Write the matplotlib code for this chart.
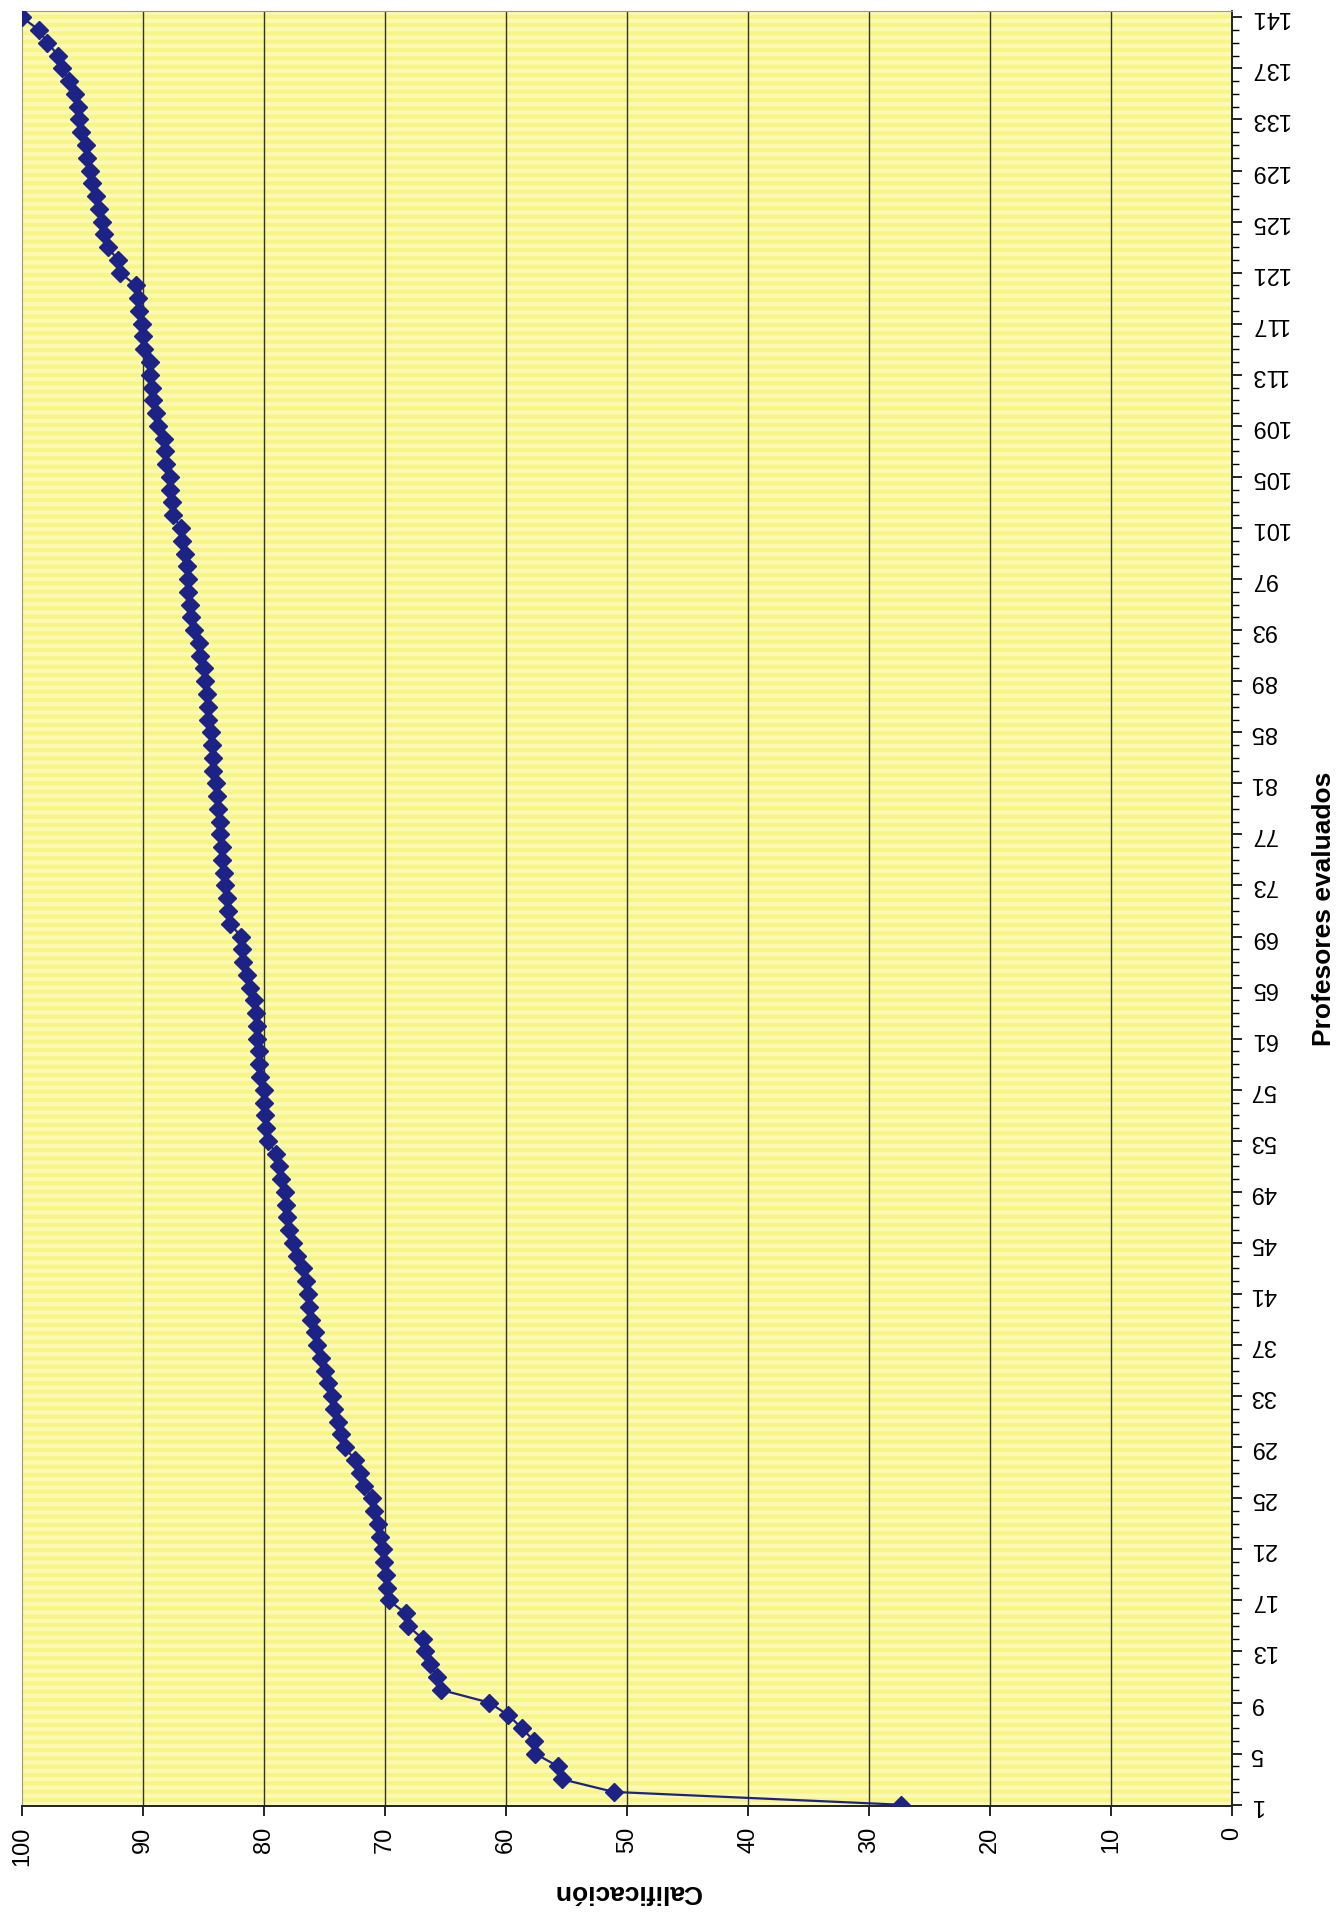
#!/usr/bin/env python3
# -*- coding: utf-8 -*-
"""
Calificación de profesores evaluados (gráfica girada, como en el escaneo)
"""

import matplotlib
matplotlib.use('Agg')
import matplotlib.pyplot as plt
import matplotlib.patches as mpatches

plt.rcParams['font.family'] = ['Liberation Sans', 'DejaVu Sans']
plt.rcParams['hatch.linewidth'] = 3.0

# Datos: calificación de cada profesor (ordenada de menor a mayor)
profesores = list(range(1, 142))
calificacion = [
    27.4, 51.1, 55.4, 55.7, 57.6, 57.7, 58.7, 59.8, 61.4, 65.4,
    65.7, 66.3, 66.7, 66.9, 68.1, 68.3, 69.7, 69.8, 69.9, 70.1,
    70.2, 70.4, 70.6, 70.9, 71.1, 71.7, 72.1, 72.5, 73.3, 73.6,
    73.9, 74.2, 74.4, 74.7, 75.0, 75.3, 75.6, 75.8, 76.1, 76.3,
    76.4, 76.5, 76.8, 77.3, 77.6, 77.9, 78.1, 78.2, 78.3, 78.6,
    78.8, 79.0, 79.7, 79.8, 79.9, 80.0, 80.0, 80.3, 80.4, 80.4,
    80.6, 80.6, 80.7, 80.8, 81.2, 81.4, 81.7, 81.8, 81.9, 82.8,
    83.0, 83.1, 83.2, 83.3, 83.5, 83.5, 83.6, 83.6, 83.8, 83.9,
    84.0, 84.2, 84.2, 84.3, 84.4, 84.6, 84.6, 84.7, 84.9, 85.0,
    85.3, 85.4, 85.8, 86.0, 86.1, 86.25, 86.3, 86.4, 86.5, 86.8,
    86.9, 87.5, 87.6, 87.8, 87.8, 88.1, 88.2, 88.3, 88.75, 88.9,
    89.2, 89.3, 89.4, 89.4, 89.9, 90.0, 90.1, 90.3, 90.4, 90.6,
    91.9, 92.1, 92.9, 93.25, 93.4, 93.6, 93.9, 94.2, 94.4, 94.6,
    94.7, 95.1, 95.3, 95.4, 95.6, 96.1, 96.7, 97.0, 97.9, 98.6,
    100.0,
]
ticks_calificacion = [0, 10, 20, 30, 40, 50, 60, 70, 80, 90, 100]
ticks_profesores = list(range(1, 142, 4))

fig = plt.figure(figsize=(13.44, 19.19), dpi=100)
ax = fig.add_axes([0.0164, 0.0589, 0.9003, 0.9354])

# Fondo amarillo con rayas claras del escaneo
ax.set_facecolor('#f7f585')
rayas = mpatches.Rectangle((0, 0), 1, 1, transform=ax.transAxes, facecolor='none',
                           edgecolor='#fffcd2', hatch='--', linewidth=0, alpha=0.6, zorder=0)
ax.add_patch(rayas)

# Curva (ejes intercambiados: calificación en horizontal, profesores en vertical)
ax.plot(calificacion, profesores, color='#1d2287', linewidth=1.6, marker='D',
        markersize=9, markerfacecolor='#1d2287', markeredgecolor='#1d2287', zorder=3)

ax.set_xlim(100, 0)
ax.set_ylim(0.9, 141.5)

# Líneas de división verticales
for v in ticks_calificacion[1:-1]:
    ax.axvline(v, color='#35351a', linewidth=1.0, zorder=1)

# Eje de calificación (abajo)
ax.set_xticks(ticks_calificacion)
ax.set_xticklabels([str(t) for t in ticks_calificacion], rotation=90, fontsize=17)
ax.tick_params(axis='x', direction='out', length=7, width=1.2, pad=8)
ax.set_xlabel('Calificación', fontsize=19, fontweight='bold', rotation=180, labelpad=10)

# Eje de profesores (derecha)
ax.yaxis.tick_right()
ax.yaxis.set_label_position('right')
ax.set_yticks(ticks_profesores)
ax.set_yticks(profesores, minor=True)
ax.set_yticklabels([str(t) for t in ticks_profesores], rotation=180, fontsize=17,
                   va='center', ha='left')
ax.tick_params(axis='y', which='major', direction='out', length=7, width=1.2, pad=6)
ax.tick_params(axis='y', which='minor', direction='out', length=5, width=1.0)
ax.set_ylabel('Profesores evaluados', fontsize=19, fontweight='bold', rotation=90, labelpad=16)

for lado in ['top', 'left']:
    ax.spines[lado].set_color('#9a9a80')
    ax.spines[lado].set_linewidth(0.8)
for lado in ['bottom', 'right']:
    ax.spines[lado].set_color('#222222')
    ax.spines[lado].set_linewidth(1.4)

fig.savefig('out.png', dpi=100)
